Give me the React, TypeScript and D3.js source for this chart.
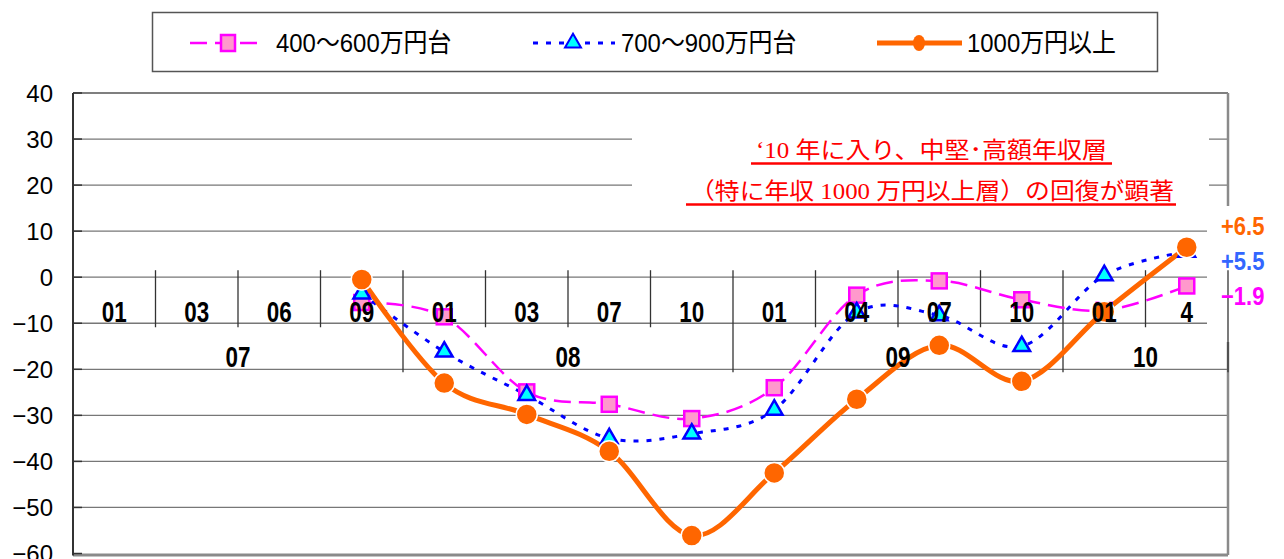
import React, { useEffect, useRef } from 'react';
import * as d3 from 'd3';

// category axis (two levels)
const categories = ['01', '03', '06', '09', '01', '03', '07', '10', '01', '04', '07', '10', '01', '4'];
const groupLabels = ['07', '08', '09', '10'];
const groupSizes = [4, 4, 4, 2];

// series values (% change), null = no data
const seriesMid = [null, null, null, -5.5, -8.6, -24.9, -27.6, -30.7, -24, -3.9, -0.8, -4.9, -7.2, -1.9];
const seriesUpper = [null, null, null, -3.6, -16.2, -25.6, -35, -34, -28.8, -7.7, -8.3, -15, 0.4, 5.5];
const seriesTop = [null, null, null, -0.5, -23, -29.8, -37.8, -56.1, -42.5, -26.5, -14.8, -22.6, -7.5, 6.5];

const seriesNames = ['400〜600万円台', '700〜900万円台', '1000万円以上'];
const endLabels = ['+6.5', '+5.5', '−1.9'];
const yTicks = [40, 30, 20, 10, 0, -10, -20, -30, -40, -50, -60];
const noteLines = ['‘10 年に入り、中堅･高額年収層', '（特に年収 1000 万円以上層）の回復が顕著'];

const W = 1284;
const H = 559;
const sans = "'Liberation Sans', Arial, 'Noto Sans CJK JP', sans-serif";
const jp = "'Liberation Serif', 'Noto Sans CJK JP', serif";

function drawChart(svgEl: SVGSVGElement) {
    const svg = d3.select(svgEl);
    svg.selectAll('*').remove();

    const left = 73, right = 1228, top = 93, bottom = 553.5;
    const x = d3.scaleBand<number>().domain(d3.range(categories.length)).range([left, right]);
    const y = d3.scaleLinear().domain([-60, 40]).range([bottom, top]);
    const cx = (i: number) => (x(i) as number) + x.bandwidth() / 2;

    // condensed text helper
    const ctext = (g: any, tx: number, ty: number, t: string, size: number, sx: number, fill: string, anchor = 'middle') =>
        g.append('text')
            .attr('transform', `translate(${tx},${ty}) scale(${sx},1)`)
            .attr('text-anchor', anchor)
            .attr('font-family', sans).attr('font-size', size).attr('font-weight', 'bold')
            .attr('fill', fill)
            .text(t);

    // gridlines
    svg.append('g')
        .selectAll('line')
        .data(yTicks.filter(t => t !== 40 && t !== -60))
        .join('line')
        .attr('x1', left).attr('x2', right)
        .attr('y1', d => y(d)).attr('y2', d => y(d))
        .attr('stroke', '#777').attr('stroke-width', 1.3);

    // frame
    svg.append('line').attr('x1', left).attr('x2', right).attr('y1', top).attr('y2', top)
        .attr('stroke', '#555').attr('stroke-width', 1.6);
    svg.append('line').attr('x1', left).attr('x2', right).attr('y1', bottom + 1.5).attr('y2', bottom + 1.5)
        .attr('stroke', '#8a8a8a').attr('stroke-width', 3);
    svg.append('line').attr('x1', right).attr('x2', right).attr('y1', top).attr('y2', bottom + 1.5)
        .attr('stroke', '#8a8a8a').attr('stroke-width', 2.5);
    svg.append('line').attr('x1', left).attr('x2', left).attr('y1', top).attr('y2', bottom + 2)
        .attr('stroke', '#333').attr('stroke-width', 2);
    svg.append('g')
        .selectAll('line')
        .data(yTicks)
        .join('line')
        .attr('x1', left).attr('x2', left + 9)
        .attr('y1', d => y(d)).attr('y2', d => y(d))
        .attr('stroke', '#333').attr('stroke-width', 1.5);

    // y labels
    svg.append('g')
        .selectAll('text')
        .data(yTicks)
        .join('text')
        .attr('x', 53).attr('y', d => y(d) + 8.5)
        .attr('text-anchor', 'end')
        .attr('font-family', sans)
        .attr('font-size', 24)
        .attr('fill', '#000')
        .text(d => (d < 0 ? '−' + Math.abs(d) : String(d)));

    // annotation box (white, hides gridlines)
    svg.append('rect').attr('x', 632).attr('y', 104).attr('width', 577).attr('height', 108).attr('fill', '#fff');
    // right label box
    svg.append('rect').attr('x', 1207).attr('y', 206).attr('width', 77).attr('height', 136).attr('fill', '#fff');

    const noteY = [158, 199];
    const noteX = [[756, 1107], [690, 1174]];
    const ulX = [[751, 1112], [686, 1176]];
    noteLines.forEach((t, i) => {
        svg.append('text')
            .attr('x', noteX[i][0]).attr('y', noteY[i])
            .attr('font-family', jp).attr('font-size', 23)
            .attr('fill', '#ff0000')
            .attr('textLength', noteX[i][1] - noteX[i][0])
            .attr('lengthAdjust', 'spacingAndGlyphs')
            .text(t);
        svg.append('line')
            .attr('x1', ulX[i][0]).attr('x2', ulX[i][1])
            .attr('y1', noteY[i] + 5.5).attr('y2', noteY[i] + 5.5)
            .attr('stroke', '#ff0000').attr('stroke-width', 2.5);
    });

    // category separators
    const groupEnds = d3.cumsum(groupSizes);
    const bounds = d3.range(1, categories.length + 1);
    svg.append('g')
        .selectAll('line')
        .data(bounds)
        .join('line')
        .attr('x1', d => left + d * x.bandwidth()).attr('x2', d => left + d * x.bandwidth())
        .attr('y1', y(0) - 7)
        .attr('y2', d => (groupEnds.includes(d) ? y(-20) + 3 : y(-10) + 4))
        .attr('stroke', '#333').attr('stroke-width', 1.3);

    // lines
    const line = d3.line<[number, number | null]>()
        .defined(d => d[1] !== null)
        .x(d => cx(d[0]))
        .y(d => y(d[1] as number))
        .curve(d3.curveCatmullRom.alpha(0));

    const toPts = (arr: (number | null)[]) => arr.map((v, i) => [i, v] as [number, number | null]);

    svg.append('path').attr('d', line(toPts(seriesMid)))
        .attr('fill', 'none').attr('stroke', '#ff00ff').attr('stroke-width', 2.5)
        .attr('stroke-dasharray', '17 8');
    svg.append('path').attr('d', line(toPts(seriesUpper)))
        .attr('fill', 'none').attr('stroke', '#0000ff').attr('stroke-width', 3)
        .attr('stroke-dasharray', '5 8');
    svg.append('path').attr('d', line(toPts(seriesTop)))
        .attr('fill', 'none').attr('stroke', '#ff6600').attr('stroke-width', 5);

    const defined = (arr: (number | null)[]) => toPts(arr).filter(d => d[1] !== null) as [number, number][];

    svg.append('g').selectAll('rect')
        .data(defined(seriesMid))
        .join('rect')
        .attr('x', d => cx(d[0]) - 7.5).attr('y', d => y(d[1]) - 7.5)
        .attr('width', 15).attr('height', 15)
        .attr('fill', '#ff99cc').attr('stroke', '#ff00ff').attr('stroke-width', 2.5);

    const tri = d3.symbol().type(d3.symbolTriangle).size(120);
    svg.append('g').selectAll('path')
        .data(defined(seriesUpper))
        .join('path')
        .attr('d', tri)
        .attr('transform', d => `translate(${cx(d[0])},${y(d[1])})`)
        .attr('fill', '#00ffff').attr('stroke', '#0000ff').attr('stroke-width', 2.5);

    svg.append('g').selectAll('circle')
        .data(defined(seriesTop))
        .join('circle')
        .attr('cx', d => cx(d[0])).attr('cy', d => y(d[1]))
        .attr('r', 10.5)
        .attr('fill', '#ff6600').attr('stroke', '#fff').attr('stroke-width', 1.5);

    // category labels on top
    const catG = svg.append('g');
    categories.forEach((c, i) => ctext(catG, cx(i), y(0) + 45, c, 29.5, 0.76, '#000'));

    const groupStarts = [0, ...groupEnds.slice(0, -1)];
    const grpG = svg.append('g');
    groupLabels.forEach((g, i) =>
        ctext(grpG, left + (groupStarts[i] + groupSizes[i] / 2) * x.bandwidth(), y(0) + 90, g, 29.5, 0.76, '#000'));

    // end labels
    const endColors = ['#ff6600', '#3366ff', '#ff00ff'];
    const endY = [235, 270, 305];
    const endG = svg.append('g');
    endLabels.forEach((t, i) => ctext(endG, 1221, endY[i], t, 25, 0.88, endColors[i], 'start'));

    // legend
    const lg = svg.append('g');
    lg.append('rect').attr('x', 152.5).attr('y', 12.5).attr('width', 1005).attr('height', 59)
        .attr('fill', '#fff').attr('stroke', '#555').attr('stroke-width', 1.5);
    const ly = 43;
    const items = [
        { x0: 190, x1: 262, mx: 228, tx: 276, color: '#ff00ff', dash: '17 8', w: 2.5 },
        { x0: 533, x1: 615, mx: 573, tx: 621, color: '#0000ff', dash: '5 8', w: 3 },
        { x0: 877, x1: 962, mx: 919, tx: 967, color: '#ff6600', dash: null, w: 5 },
    ];
    items.forEach((it, i) => {
        lg.append('line').attr('x1', it.x0).attr('x2', it.x1).attr('y1', ly).attr('y2', ly)
            .attr('stroke', it.color).attr('stroke-width', it.w)
            .attr('stroke-dasharray', it.dash);
        if (i === 0) {
            lg.append('rect').attr('x', it.mx - 7).attr('y', ly - 8).attr('width', 14).attr('height', 16)
                .attr('fill', '#ff99cc').attr('stroke', '#ff00ff').attr('stroke-width', 2.5);
        } else if (i === 1) {
            lg.append('path').attr('d', d3.symbol().type(d3.symbolTriangle).size(110)())
                .attr('transform', `translate(${it.mx},${ly})`)
                .attr('fill', '#00ffff').attr('stroke', '#0000ff').attr('stroke-width', 2);
        } else {
            lg.append('ellipse').attr('cx', it.mx).attr('cy', ly).attr('rx', 6).attr('ry', 8)
                .attr('fill', '#ff6600');
        }
        lg.append('text')
            .attr('transform', `translate(${it.tx},${ly + 9}) scale(0.92,1)`)
            .attr('font-family', sans).attr('font-size', 26)
            .attr('fill', '#000')
            .text(seriesNames[i]);
    });
}

const App = () => {
    const ref = useRef<SVGSVGElement>(null);
    useEffect(() => {
        if (ref.current) drawChart(ref.current);
    }, []);
    return (
        <svg ref={ref} width={W} height={H}
            style={{ position: 'absolute', left: 0, top: 0, background: '#fff' }} />
    );
};

export default App;
